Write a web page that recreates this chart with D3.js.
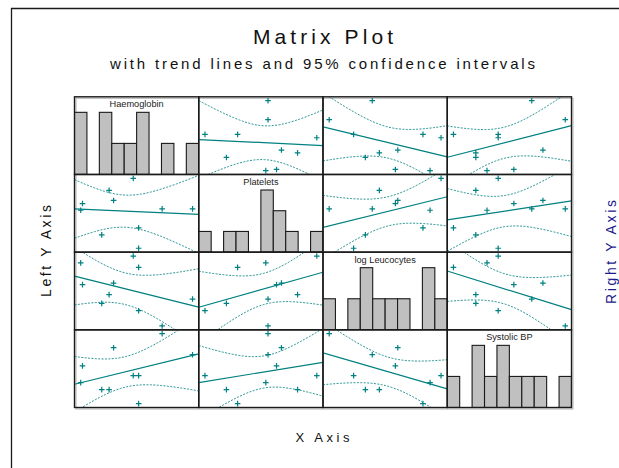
<!DOCTYPE html>
<html><head><meta charset="utf-8">
<script src="https://cdn.jsdelivr.net/npm/d3@7"></script>
<style>
body{margin:0;background:#fff;}
svg{display:block;font-family:"Liberation Sans",Arial,sans-serif;}
</style>
</head><body>
<svg id="c" width="619" height="468"></svg>
<script>
// ---- data ----
const variables = ["Haemoglobin", "Platelets", "log Leucocytes", "Systolic BP"];
const haemoglobin   = [15.50, 14.14, 13.09, 13.09, 12.85, 11.97, 11.77, 11.44, 10.50, 10.58];
const platelets     = [291, 291, 150, 223, 400, 321, 357, 198, 286, 310];
const logLeucocytes = [0.831, 0.600, 0.731, 1.103, 1.200, 0.968, 0.869, 0.794, 1.141, 0.955];
const systolicBP    = [145, 160, 130, 110, 130, 150, 120, 120, 125, 137];
const titleText = "Matrix Plot";
const subtitleText = "with trend lines and 95% confidence intervals";
const xAxisLabel = "X Axis";
const leftAxisLabel = "Left Y Axis";
const rightAxisLabel = "Right Y Axis";
const binCount = 10;
const tCrit = 2.306; // t(0.975, n-2 = 8)

const columns = [haemoglobin, platelets, logLeucocytes, systolicBP];

// ---- layout ----
const svg = d3.select("#c");
const teal = "#008080";
const gridX = d3.scaleBand().domain(d3.range(4)).range([74.5, 571.5]);
const gridY = d3.scaleBand().domain(d3.range(4)).range([96.8, 407.5]);
const bw = gridX.bandwidth(), bh = gridY.bandwidth();

// per-variable scales (5% padding each side)
const doms = columns.map(v => {
  const mn = d3.min(v), mx = d3.max(v), pad = (mx - mn) / 18;
  return [mn - pad, mx + pad];
});
const xs = doms.map(d => d3.scaleLinear().domain(d).range([0, bw]));
const ys = doms.map(d => d3.scaleLinear().domain(d).range([bh, 0]));

// outer frame
svg.append("line").attr("x1", 11).attr("x2", 619).attr("y1", 8.5).attr("y2", 8.5)
  .attr("stroke", "#1a1a1a").attr("stroke-width", 1.3);
svg.append("line").attr("x1", 11.5).attr("x2", 11.5).attr("y1", 8).attr("y2", 468)
  .attr("stroke", "#1a1a1a").attr("stroke-width", 1.3);

// titles
svg.append("text").attr("x", 323).attr("y", 44.3).attr("text-anchor", "middle")
  .attr("font-size", 21).attr("textLength", 140).attr("lengthAdjust", "spacing")
  .attr("fill", "#111").text(titleText);
svg.append("text").attr("x", 322.5).attr("y", 68.5).attr("text-anchor", "middle")
  .attr("font-size", 15).attr("textLength", 425).attr("lengthAdjust", "spacing")
  .attr("fill", "#111").text(subtitleText);
svg.append("text").attr("x", 322.5).attr("y", 441.5).attr("text-anchor", "middle")
  .attr("font-size", 13).attr("textLength", 54).attr("lengthAdjust", "spacing")
  .attr("fill", "#111").text(xAxisLabel);
svg.append("text").attr("transform", "translate(50.7,251) rotate(-90)").attr("text-anchor", "middle")
  .attr("font-size", 14).attr("textLength", 92).attr("lengthAdjust", "spacing")
  .attr("fill", "#111").text(leftAxisLabel);
svg.append("text").attr("transform", "translate(615.5,252) rotate(-90)").attr("text-anchor", "middle")
  .attr("font-size", 14).attr("textLength", 104).attr("lengthAdjust", "spacing")
  .attr("fill", "#1c1c8c").text(rightAxisLabel);

const defs = svg.append("defs");

// shadow of grid
svg.append("rect").attr("x", gridX.range()[0] + 1.5).attr("y", gridY.range()[0] + 1.5)
  .attr("width", bw * 4).attr("height", bh * 4).attr("fill", "none")
  .attr("stroke", "#bdbdbd").attr("stroke-width", 1.2);

for (let r = 0; r < 4; r++) {
  for (let c = 0; c < 4; c++) {
    const cid = `clip${r}${c}`;
    defs.append("clipPath").attr("id", cid).append("rect")
      .attr("x", gridX(c)).attr("y", gridY(r)).attr("width", bw).attr("height", bh);
    const inner = svg.append("g").attr("clip-path", `url(#${cid})`);
    const pg = inner.append("g").attr("transform", `translate(${gridX(c)},${gridY(r)})`);

    if (r === c) {
      const v = columns[c];
      const mn = d3.min(v), mx = d3.max(v), w = (mx - mn) / (binCount - 1);
      const lo = mn - w / 2, hi = mx + w / 2;
      const thresholds = d3.range(1, binCount).map(k => lo + k * w);
      const bins = d3.bin().domain([lo, hi]).thresholds(thresholds)(v);
      const maxCount = d3.max(bins, b => b.length);
      const cy = d3.scaleLinear().domain([0, maxCount]).range([bh, bh * 0.2]);
      pg.selectAll("rect.bar").data(bins.filter(b => b.length > 0)).join("rect")
        .attr("x", b => xs[c](b.x0)).attr("width", b => xs[c](b.x1) - xs[c](b.x0))
        .attr("y", b => cy(b.length)).attr("height", b => bh - cy(b.length))
        .attr("fill", "#c0c0c0").attr("stroke", "#1a1a1a").attr("stroke-width", 1.1);
      pg.append("text").attr("x", bw / 2).attr("y", 10.6).attr("text-anchor", "middle")
        .attr("font-size", 9.2).attr("fill", "#222").text(variables[c]);
    } else {
      const xv = columns[c], yv = columns[r];
      const n = xv.length;
      const mx = d3.mean(xv), my = d3.mean(yv);
      const sxx = d3.sum(xv, d => (d - mx) ** 2);
      const sxy = d3.sum(xv, (d, i) => (d - mx) * (yv[i] - my));
      const b = sxy / sxx, a = my - b * mx;
      const sse = d3.sum(xv, (d, i) => (yv[i] - (a + b * d)) ** 2);
      const s = Math.sqrt(sse / (n - 2));
      const [d0, d1] = xs[c].domain();
      const grid = d3.range(0, 101).map(i => d0 + (d1 - d0) * i / 100);
      const half = x => tCrit * s * Math.sqrt(1 / n + (x - mx) ** 2 / sxx);
      const line = d3.line().x(d => xs[c](d[0])).y(d => ys[r](d[1]));
      pg.append("path").attr("d", line(grid.map(x => [x, a + b * x + half(x)])))
        .attr("fill", "none").attr("stroke", teal).attr("stroke-width", 1)
        .attr("stroke-dasharray", "2,1.4").attr("opacity", 0.85);
      pg.append("path").attr("d", line(grid.map(x => [x, a + b * x - half(x)])))
        .attr("fill", "none").attr("stroke", teal).attr("stroke-width", 1)
        .attr("stroke-dasharray", "2,1.4").attr("opacity", 0.85);
      pg.append("path").attr("d", line([[d0, a + b * d0], [d1, a + b * d1]]))
        .attr("fill", "none").attr("stroke", teal).attr("stroke-width", 1.2);
      pg.selectAll("path.pt").data(xv.map((d, i) => [d, yv[i]])).join("path")
        .attr("class", "pt")
        .attr("transform", d => `translate(${xs[c](d[0])},${ys[r](d[1])})`)
        .attr("d", "M-2.8,0H2.8M0,-2.8V2.8")
        .attr("stroke", teal).attr("stroke-width", 1.2);
    }
    svg.append("rect").attr("x", gridX(c)).attr("y", gridY(r)).attr("width", bw).attr("height", bh)
      .attr("fill", "none").attr("stroke", "#1a1a1a").attr("stroke-width", 1.4);
  }
}
</script>
</body></html>
